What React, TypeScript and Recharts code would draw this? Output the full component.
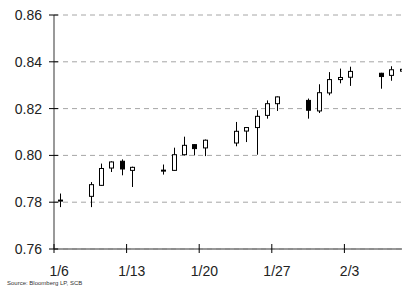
import React from 'react';
import { ComposedChart, Bar, XAxis, YAxis, CartesianGrid } from 'recharts';

// trading days
const dates = ['1/6', '1/9', '1/10', '1/11', '1/12', '1/13', '1/16', '1/17', '1/18', '1/19', '1/20', '1/23', '1/24', '1/25', '1/26', '1/27', '1/30', '1/31', '2/1', '2/2', '2/3', '2/6', '2/7', '2/8'];
const opens = [0.7805, 0.7825, 0.7872, 0.7946, 0.7975, 0.7936, 0.7933, 0.7936, 0.8003, 0.8046, 0.8032, 0.8053, 0.8104, 0.8119, 0.8171, 0.8221, 0.8235, 0.819, 0.8267, 0.8324, 0.8334, 0.8351, 0.8342, 0.836];
const closes = [0.7809, 0.7875, 0.7944, 0.7972, 0.7942, 0.7949, 0.7937, 0.8003, 0.8043, 0.8029, 0.8065, 0.8103, 0.8119, 0.8167, 0.8221, 0.825, 0.8193, 0.8268, 0.8324, 0.8333, 0.8359, 0.8337, 0.8366, 0.8368];
const highs = [0.7837, 0.7886, 0.7965, 0.7975, 0.7983, 0.7952, 0.7961, 0.8033, 0.808, 0.8047, 0.8068, 0.8143, 0.812, 0.8193, 0.8235, 0.8252, 0.8243, 0.8304, 0.8356, 0.8371, 0.8379, 0.8353, 0.8381, 0.8372];
const lows = [0.7779, 0.7779, 0.787, 0.7929, 0.7915, 0.7865, 0.7918, 0.7934, 0.8, 0.8, 0.7997, 0.8039, 0.8057, 0.8003, 0.8157, 0.819, 0.8157, 0.8181, 0.8257, 0.8308, 0.8297, 0.8285, 0.8319, 0.8355];

const tickDates = ['1/6', '1/13', '1/20', '1/27', '2/3'];
const yTicks = [0.76, 0.78, 0.8, 0.82, 0.84, 0.86];

const START_DAY = 6; // 1/6
const DAY_SPAN = 35;
const CHART_W = 417;
const CHART_H = 290;
const Y_AXIS_W = 54;
const PLOT_W = CHART_W - Y_AXIS_W;
const FONT = "Arial, 'Liberation Sans', sans-serif";

const dayNumber = (d: string) => {
  const [m, day] = d.split('/').map(Number);
  return (m === 1 ? day : 31 + day) - START_DAY;
};

const data = dates.map((d, i) => ({
  date: d,
  x: dayNumber(d) + 0.5,
  open: opens[i],
  close: closes[i],
  high: highs[i],
  low: lows[i],
}));

const Candle = (props: any) => {
  const { x, y, width, height, payload } = props;
  const { open, close, high, low } = payload;
  const yHigh = Math.min(y, y + height);
  const yLow = Math.max(y, y + height);
  const ratio = high === low ? 0 : (yLow - yHigh) / (high - low);
  const yOf = (v: number) => yHigh + (high - v) * ratio;
  const cx = Math.round(x + width / 2) + 0.5;
  const top = yOf(Math.max(open, close));
  const bot = yOf(Math.min(open, close));
  const up = close >= open;
  return (
    <g>
      <line x1={cx} x2={cx} y1={yHigh} y2={yLow} stroke="#000" strokeWidth={1} />
      <rect
        x={cx - 2}
        y={top}
        width={4}
        height={Math.max(bot - top, 1)}
        fill={up ? '#fff' : '#000'}
        stroke="#000"
        strokeWidth={1}
      />
    </g>
  );
};

const YTick = (props: any) => {
  const { x, y, payload } = props;
  return (
    <g>
      <line x1={x - 5} x2={x + 4} y1={y} y2={y} stroke="#000" />
      <text x={x - 12} y={y} dy={5} textAnchor="end" fontSize={14} fontFamily={FONT} fill="#222">
        {Number(payload.value).toFixed(2)}
      </text>
    </g>
  );
};

const XTick = (props: any) => {
  const { x, y, payload } = props;
  const label = tickDates.find((d) => dayNumber(d) === payload.value) ?? '';
  const half = PLOT_W / DAY_SPAN / 2;
  return (
    <g>
      <line x1={x} x2={x} y1={y - 5} y2={y + 4} stroke="#000" />
      <text x={x + half} y={y} dy={27} textAnchor="middle" fontSize={14} fontFamily={FONT} fill="#222">
        {label}
      </text>
    </g>
  );
};

export default function App() {
  return (
    <div
      style={{
        position: 'absolute',
        left: 0,
        top: 0,
        width: 402,
        height: 290,
        overflow: 'hidden',
        background: '#fff',
      }}
    >
      <ComposedChart
        width={CHART_W}
        height={CHART_H}
        data={data}
        margin={{ top: 15, right: 0, left: 0, bottom: 0 }}
      >
        <CartesianGrid horizontal vertical={false} stroke="#a6a6a6" strokeDasharray="5 4" />
        <XAxis
          type="number"
          dataKey="x"
          domain={[0, DAY_SPAN]}
          ticks={tickDates.map(dayNumber)}
          allowDataOverflow
          height={41}
          tickSize={0}
          tickMargin={0}
          tickLine={false}
          axisLine={{ stroke: '#777', strokeWidth: 1.5 }}
          tick={<XTick />}
        />
        <YAxis
          type="number"
          domain={[0.76, 0.86]}
          ticks={yTicks}
          width={Y_AXIS_W}
          tickSize={0}
          tickMargin={0}
          tickLine={false}
          axisLine={{ stroke: '#777', strokeWidth: 1.5 }}
          tick={<YTick />}
        />
        <Bar
          dataKey={(d: any) => [d.low, d.high]}
          barSize={5}
          shape={<Candle />}
          isAnimationActive={false}
        />
      </ComposedChart>
      <div
        style={{
          position: 'absolute',
          left: 7,
          top: 280,
          fontSize: 6,
          lineHeight: '6px',
          fontFamily: FONT,
          color: '#333',
          whiteSpace: 'nowrap',
        }}
      >
        Source: Bloomberg LP, SCB
      </div>
    </div>
  );
}
